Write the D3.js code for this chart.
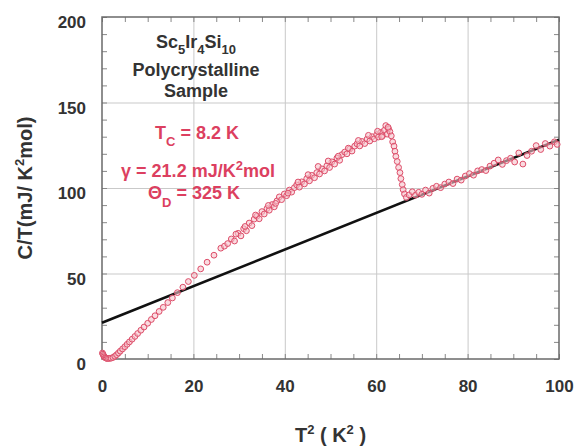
<!DOCTYPE html>
<html>
<head>
<meta charset="utf-8">
<script src="https://cdn.jsdelivr.net/npm/d3@7"></script>
<style>
  body { margin: 0; background: #fff; }
  svg text { font-family: Arial, "Liberation Sans", sans-serif; font-weight: bold; }
</style>
</head>
<body>
<svg width="575" height="448"></svg>
<script>
// T^2 (K^2) and C/T (mJ/K^2 mol)
var t2 = [0.1, 0.2, 0.35, 0.5, 0.7, 0.9, 1.1, 1.4, 1.7, 2.0, 2.4, 2.8, 3.2, 3.6, 4.0, 4.5, 5.0, 5.5, 6.0, 6.6,
    7.2, 7.8, 8.5, 9.2, 10.0, 10.8, 11.6, 12.5, 13.4, 14.4, 15.4, 16.5, 17.7, 18.9, 20.2, 21.6, 23.0, 24.5, 26.0,
    26.8, 27.5, 28.3, 29.0, 29.8, 30.4, 31.0, 31.6, 32.2, 32.8, 33.3, 33.9, 34.4, 35.0, 35.5, 36.1, 36.6, 37.2,
    37.7, 38.3, 38.8, 39.3, 39.9, 40.4, 41.0, 41.5, 42.1, 42.6, 43.2, 43.7, 44.3, 44.8, 45.4, 45.9, 46.5, 47.0,
    47.6, 48.1, 48.7, 49.2, 49.8, 50.3, 50.9, 51.4, 52.0, 52.5, 53.1, 53.6, 54.2, 54.7, 55.3, 55.8, 56.4, 56.9,
    57.5, 58.0, 58.6, 59.1, 59.6, 60.1, 60.5, 61.0, 61.4, 61.8, 62.1, 62.4, 62.7, 63.0, 63.3, 63.6, 63.9, 64.1,
    64.3, 64.6, 64.9, 65.2, 65.4, 65.7, 65.9, 66.2, 66.6, 67.2, 67.9, 68.6, 69.3, 70.0, 70.8, 71.6, 72.4, 73.2,
    74.1, 75.0, 75.9, 76.8, 77.7, 78.6, 79.5, 80.4, 81.3, 82.2, 83.1, 84.0, 84.9, 85.8, 86.7, 87.6, 88.5, 89.4,
    90.3, 91.2, 92.1, 93.0, 94.0, 95.0, 96.0, 97.0, 98.0, 99.0, 99.6,
    // second scan through the upper branch
    29.3, 31.3, 33.6, 36.4, 38.0, 40.7, 42.9, 45.1, 47.3, 49.5, 51.7, 53.9, 56.1, 58.3, 60.3, 61.2, 62.6];
var ct = [3.5, 2.8, 2.0, 1.3, 0.8, 0.5, 0.3, 0.3, 0.4, 0.5, 0.9, 1.6, 2.5, 3.5, 4.6, 5.9, 7.2, 8.6, 10.0, 11.6,
    13.2, 14.9, 16.8, 18.7, 20.9, 23.1, 25.3, 27.8, 30.2, 33.0, 35.7, 38.8, 42.0, 45.3, 48.9, 52.7, 56.6, 60.7, 64.8,
    66.0, 67.5, 70.2, 69.0, 73.5, 72.0, 76.2, 75.0, 79.5, 78.0, 81.8, 83.5, 82.0, 86.2, 84.8, 88.0, 87.0, 90.3,
    89.0, 92.5, 94.8, 93.2, 96.5, 95.5, 98.8, 97.6, 100.2, 101.8, 100.5, 103.6, 102.4, 105.5, 104.2, 107.4, 106.0, 109.0,
    108.2, 111.2, 110.0, 113.0, 112.0, 115.3, 114.0, 117.5, 116.2, 119.5, 121.0, 120.0, 122.8, 121.6, 124.5, 125.8, 124.6, 127.2,
    126.0, 128.6, 127.5, 130.0, 128.8, 131.2, 129.8, 132.5, 130.6, 133.8, 136.5, 131.5, 134.6, 133.0, 130.5, 127.0, 124.5, 121.5,
    118.5, 115.5, 112.0, 109.0, 105.5, 102.0, 99.0, 96.5, 94.5, 96.0, 97.8, 95.8, 97.5, 96.3, 98.8, 97.0, 99.8, 101.0,
    100.2, 102.3, 103.5, 102.6, 105.2, 104.6, 107.0, 108.4, 107.5, 110.0, 110.8, 110.2, 112.8, 114.5, 116.4, 113.8, 116.0, 117.4,
    115.2, 120.5, 114.0, 119.0, 121.5, 124.8, 122.5, 126.0, 124.5, 127.0, 125.5,
    73.0, 77.5, 84.2, 89.8, 91.0, 97.0, 103.5, 107.8, 112.6, 115.8, 118.6, 123.3, 127.8, 130.8, 133.2, 130.0, 135.5];

// fit C/T = gamma + beta*T^2
var gamma = 21.2;
var beta = 1.07;

var xTicks = [0, 20, 40, 60, 80, 100];
var yTicks = [0, 50, 100, 150, 200];
var xMinor = d3.range(0, 101, 5);
var yMinor = d3.range(0, 201, 10);

var svg = d3.select("svg"),
    pl = 102, pr = 559, pt = 17, pb = 359;

var x = d3.scaleLinear().domain([0, 100]).range([pl, pr]);
var y = d3.scaleLinear().domain([0, 200]).range([pb, pt]);

// grid
svg.append("g")
    .attr("class", "grid")
    .attr("transform", "translate(0," + pb + ")")
    .call(d3.axisBottom(x).tickValues(xTicks.slice(1, -1)).tickSize(-(pb - pt)).tickFormat(""))
    .call(function(g) { g.select(".domain").remove(); });
svg.append("g")
    .attr("class", "grid")
    .attr("transform", "translate(" + pl + ",0)")
    .call(d3.axisLeft(y).tickValues(yTicks.slice(1, -1)).tickSize(-(pr - pl)).tickFormat(""))
    .call(function(g) { g.select(".domain").remove(); });
svg.selectAll(".grid line").attr("stroke", "#c9c9c9").attr("stroke-width", 1);

// minor ticks pointing inward on all four sides
var minor = [
    [d3.axisBottom(x).tickValues(xMinor), "translate(0," + pb + ")"],
    [d3.axisTop(x).tickValues(xMinor), "translate(0," + pt + ")"],
    [d3.axisLeft(y).tickValues(yMinor), "translate(" + pl + ",0)"],
    [d3.axisRight(y).tickValues(yMinor), "translate(" + pr + ",0)"]
];
minor.forEach(function(m) {
    svg.append("g")
        .attr("transform", m[1])
        .call(m[0].tickSize(-5).tickFormat(""))
        .call(function(g) {
            g.select(".domain").remove();
            g.selectAll("line").attr("stroke", "#888").attr("stroke-width", 1);
        });
});

// frame
svg.append("rect")
    .attr("x", pl).attr("y", pt)
    .attr("width", pr - pl).attr("height", pb - pt)
    .attr("fill", "none").attr("stroke", "#6a6a6a").attr("stroke-width", 1.5);

// tick labels
svg.append("g")
    .attr("class", "lbl")
    .attr("transform", "translate(0," + pb + ")")
    .call(d3.axisBottom(x).tickValues(xTicks).tickSize(0).tickPadding(21))
    .call(function(g) { g.select(".domain").remove(); });
svg.append("g")
    .attr("class", "lbl")
    .attr("transform", "translate(" + pl + ",0)")
    .call(d3.axisLeft(y).tickValues(yTicks).tickSize(0).tickPadding(16))
    .call(function(g) { g.select(".domain").remove(); })
    .selectAll("text").attr("dy", "0.62em");
svg.selectAll(".lbl text")
    .style("font-size", "17px")
    .style("font-family", "Arial, 'Liberation Sans', sans-serif")
    .style("font-weight", "bold")
    .attr("fill", "#333");

// fitted line
svg.append("line")
    .attr("x1", x(0)).attr("y1", y(gamma))
    .attr("x2", x(100)).attr("y2", y(gamma + beta * 100))
    .attr("stroke", "#111").attr("stroke-width", 2.6);

// data points
svg.append("g")
    .attr("class", "points")
    .selectAll("circle")
    .data(t2)
    .enter().append("circle")
    .attr("cx", function(d) { return x(d); })
    .attr("cy", function(d, i) { return y(ct[i]); })
    .attr("r", 2.9)
    .attr("fill", "#f6c3cc")
    .attr("fill-opacity", 0.6)
    .attr("stroke", "#dd4d69")
    .attr("stroke-width", 1);

// axis titles
var yt = svg.append("text")
    .attr("transform", "translate(32," + ((pt + pb) / 2) + ") rotate(-90)")
    .attr("text-anchor", "middle")
    .style("font-size", "20px")
    .attr("fill", "#333");
yt.append("tspan").text("C/T(mJ/ K");
yt.append("tspan").attr("dy", -8).style("font-size", "13px").text("2");
yt.append("tspan").attr("dy", 8).text("mol)");

var xt = svg.append("text")
    .attr("x", (pl + pr) / 2).attr("y", 442)
    .attr("text-anchor", "middle")
    .style("font-size", "20px")
    .attr("fill", "#333");
xt.append("tspan").text("T");
xt.append("tspan").attr("dy", -8).style("font-size", "13px").text("2");
xt.append("tspan").attr("dy", 8).text(" ( K");
xt.append("tspan").attr("dy", -8).style("font-size", "13px").text("2");
xt.append("tspan").attr("dy", 8).text(" )");

// sample annotation
var cx = 196;
var f = svg.append("text").attr("x", cx).attr("y", 48).attr("text-anchor", "middle")
    .style("font-size", "18px").attr("fill", "#333");
f.append("tspan").text("Sc");
f.append("tspan").attr("dy", 6).style("font-size", "13px").text("5");
f.append("tspan").attr("dy", -6).text("Ir");
f.append("tspan").attr("dy", 6).style("font-size", "13px").text("4");
f.append("tspan").attr("dy", -6).text("Si");
f.append("tspan").attr("dy", 6).style("font-size", "13px").text("10");
svg.append("text").attr("x", cx).attr("y", 76).attr("text-anchor", "middle")
    .style("font-size", "18px").attr("fill", "#333").text("Polycrystalline");
svg.append("text").attr("x", cx).attr("y", 97).attr("text-anchor", "middle")
    .style("font-size", "18px").attr("fill", "#333").text("Sample");

var red = "#dc3f60";
var tc = svg.append("text").attr("x", cx + 1).attr("y", 139).attr("text-anchor", "middle")
    .style("font-size", "18px").attr("fill", red);
tc.append("tspan").text("T");
tc.append("tspan").attr("dy", 7).style("font-size", "13px").text("C");
tc.append("tspan").attr("dy", -7).text(" = 8.2 K");

var gm = svg.append("text").attr("x", cx + 2).attr("y", 177).attr("text-anchor", "middle")
    .style("font-size", "18px").attr("fill", red);
gm.append("tspan").text("\u03b3 = 21.2 mJ/K");
gm.append("tspan").attr("dy", -7).style("font-size", "13px").text("2");
gm.append("tspan").attr("dy", 7).text("mol");

var th = svg.append("text").attr("x", cx - 2).attr("y", 199).attr("text-anchor", "middle")
    .style("font-size", "18px").attr("fill", red);
th.append("tspan").text("\u0398");
th.append("tspan").attr("dy", 8).style("font-size", "13px").text("D");
th.append("tspan").attr("dy", -8).text(" = 325 K");
</script>
</body>
</html>
